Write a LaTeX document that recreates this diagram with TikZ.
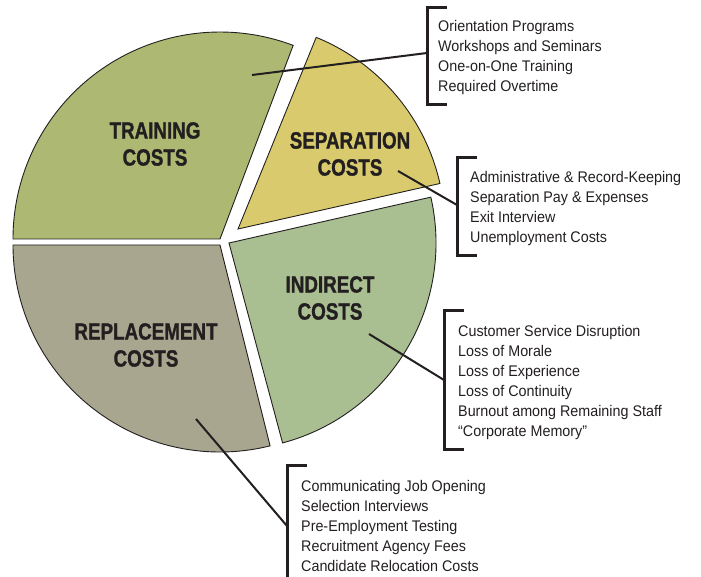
\documentclass[tikz,border=0pt]{standalone}
\usepackage{fontspec}
\setmainfont{Liberation Sans}
\newfontfamily\headfont{Liberation Sans Bold}[FakeStretch=0.8, FakeBold=1.2]
\newfontfamily\itemfont{Liberation Sans}[FakeStretch=0.93]
\definecolor{ink}{HTML}{231F20}
\definecolor{trainc}{HTML}{ADB972}
\definecolor{sepc}{HTML}{D9CB6D}
\definecolor{indc}{HTML}{A9BE91}
\definecolor{repc}{HTML}{A8A68F}
\begin{document}
\begin{tikzpicture}[x=1pt,y=1pt,
  slice/.style={draw=ink, line width=0.9pt, line join=miter},
  head/.style={font=\headfont\fontsize{23.5}{27}\selectfont, text=ink, align=center, inner sep=0pt},
  items/.style={font=\itemfont\fontsize{15.4}{20}\selectfont, text=ink, align=left, inner sep=0pt, anchor=base west},
  leader/.style={draw=ink, line width=2pt},
  brack/.style={draw=ink, line width=3pt, line cap=butt, line join=miter}]
\useasboundingbox (0,0) rectangle (701,-577);
% slices
\fill[trainc] (220,-239) -- ++(180:207) arc[start angle=180, end angle=69.3, radius=207] -- cycle;
\draw[slice] (220,-239) -- ++(180:207) arc[start angle=180, end angle=69.3, radius=207] -- cycle;
\fill[sepc] (238,-229) -- ++(67.8:207) arc[start angle=67.8, end angle=12.7, radius=207] -- cycle;
\draw[slice] (238,-229) -- ++(67.8:207) arc[start angle=67.8, end angle=12.7, radius=207] -- cycle;
\fill[indc] (229,-243) -- ++(12.8:207) arc[start angle=12.8, end angle=-75, radius=207] -- cycle;
\draw[slice] (229,-243) -- ++(12.8:207) arc[start angle=12.8, end angle=-75, radius=207] -- cycle;
\fill[repc] (220,-245) -- ++(-76:207) arc[start angle=-76, end angle=-180, radius=207] -- cycle;
\draw[slice] (220,-245) -- ++(-76:207) arc[start angle=-76, end angle=-180, radius=207] -- cycle;
% headings
\node[head] (train) at (155,-144) {TRAINING\\COSTS};
\node[head] (sep) at (350,-154) {SEPARATION\\COSTS};
\node[head] (ind) at (330,-298) {INDIRECT\\COSTS};
\node[head] (rep) at (146,-345) {REPLACEMENT\\COSTS};
% lists (anchored at the baseline of the last line)
\node[items] (trainlist) at (438,-91.7) {Orientation Programs\\Workshops and Seminars\\One-on-One Training\\Required Overtime};
\node[items] (seplist) at (470,-242.7) {Administrative \& Record-Keeping\\Separation Pay \& Expenses\\Exit Interview\\Unemployment Costs};
\node[items] (indlist) at (458,-436.7) {Customer Service Disruption\\Loss of Morale\\Loss of Experience\\Loss of Continuity\\Burnout among Remaining Staff\\“Corporate Memory”};
\node[items] (replist) at (301,-571.7) {Communicating Job Opening\\Selection Interviews\\Pre-Employment Testing\\Recruitment Agency Fees\\Candidate Relocation Costs};
% brackets
\draw[brack] (447,-8) -- (427,-8) -- (427,-105) -- (447,-105);
\draw[brack] (477,-158) -- (457,-158) -- (457,-256) -- (477,-256);
\draw[brack] (464,-310) -- (444,-310) -- (444,-449) -- (464,-449);
\draw[brack] (307,-465) -- (287,-465) -- (287,-580);
% leader anchor points
\coordinate (tA) at (252,-75);  \coordinate (tB) at (427,-53);
\coordinate (sA) at (398,-171); \coordinate (sB) at (457,-205);
\coordinate (iA) at (369,-334); \coordinate (iB) at (444,-380);
\coordinate (rA) at (196,-419); \coordinate (rB) at (287,-526);
\draw[leader] (tA) -- (tB);
\draw[leader] (sA) -- (sB);
\draw[leader] (iA) -- (iB);
\draw[leader] (rA) -- (rB);
\end{tikzpicture}
\end{document}
